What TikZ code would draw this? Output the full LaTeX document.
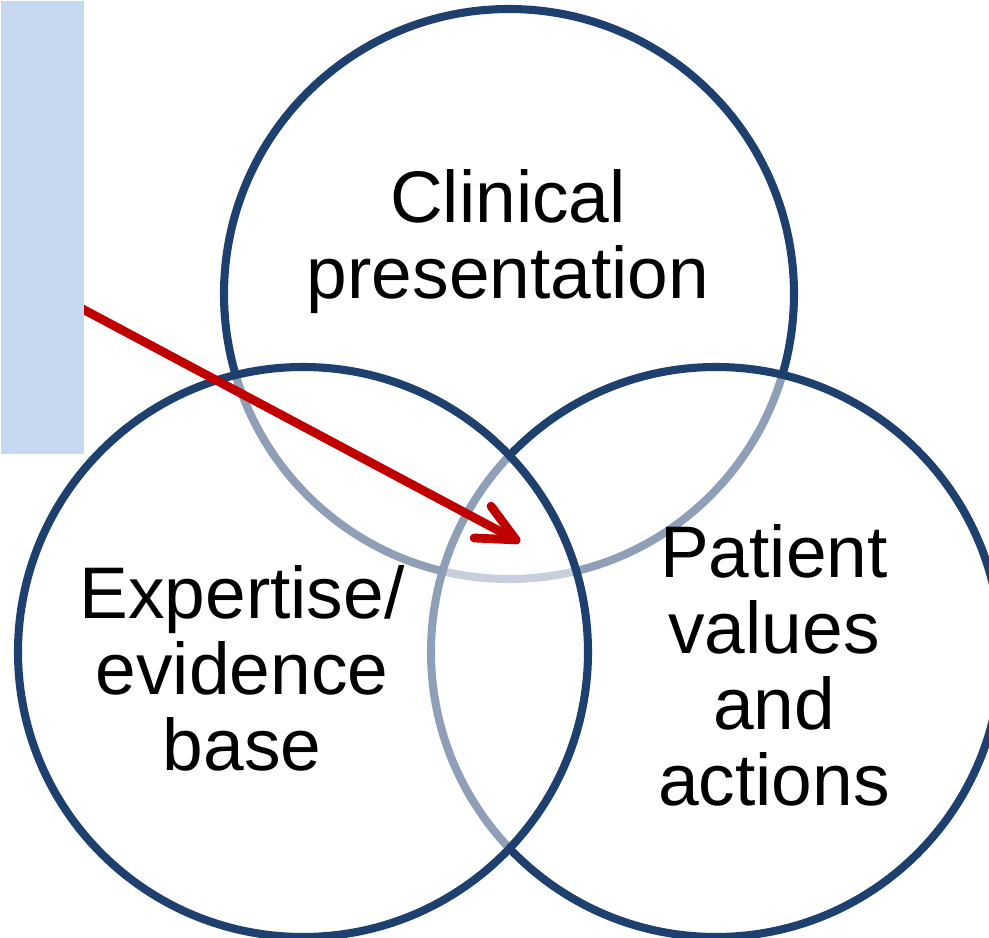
\documentclass[tikz,border=0pt]{standalone}
\usepackage{fontspec}
\setmainfont{Liberation Sans}
\usetikzlibrary{arrows.meta}
\definecolor{vennBlue}{HTML}{1D406F}
\definecolor{vennRed}{HTML}{C00000}
\definecolor{panelBlue}{HTML}{C6D9F1}

\begin{document}
\begin{tikzpicture}[
  venn/.style={circle, minimum size=5.7cm, inner sep=0pt, draw=vennBlue,
    line width=2.3pt, fill=white, fill opacity=0.5},
  vennlabel/.style={align=center, inner sep=0pt, anchor=base,
    font=\fontsize{20.8}{21.6}\selectfont},
  pointer/.style={vennRed, line width=2.5pt,
    -{Straight Barb[round, length=3.8mm, width=3.6mm]}}
]

% --- FRAME ---
\clip (0, 0) rectangle (9.89, 9.37);

% --- CIRCLES (top, right, left: later fills wash out earlier rims) ---
\node[venn] (clinical) at (5.09, 6.43) {};
\node[venn] (patient)  at (7.16, 2.85) {};
\node[venn] (expert)   at (3.03, 2.85) {};

% --- LABELS (base = baseline of the last line) ---
\node[vennlabel] (clinicalTxt) at (5.08, 6.39) {Clinical\\presentation};
\node[vennlabel] (expertTxt)   at (2.42, 1.67) {Expertise/\\evidence\\base};
\node[vennlabel] (patientTxt)  at (7.74, 1.32) {Patient\\values\\and\\actions};

% --- POINTER into the overlap ---
\coordinate (ptrStart) at (0.60, 6.40);
\coordinate (ptrTip)   at (5.20, 3.95);
\draw[pointer] (ptrStart) -- (ptrTip);

% --- SIDE PANEL (covers the pointer's tail) ---
\node[fill=panelBlue, inner sep=0pt, minimum width=0.83cm,
  minimum height=4.53cm, anchor=north west] (panel) at (0, 9.37) {};

\end{tikzpicture}
\end{document}
